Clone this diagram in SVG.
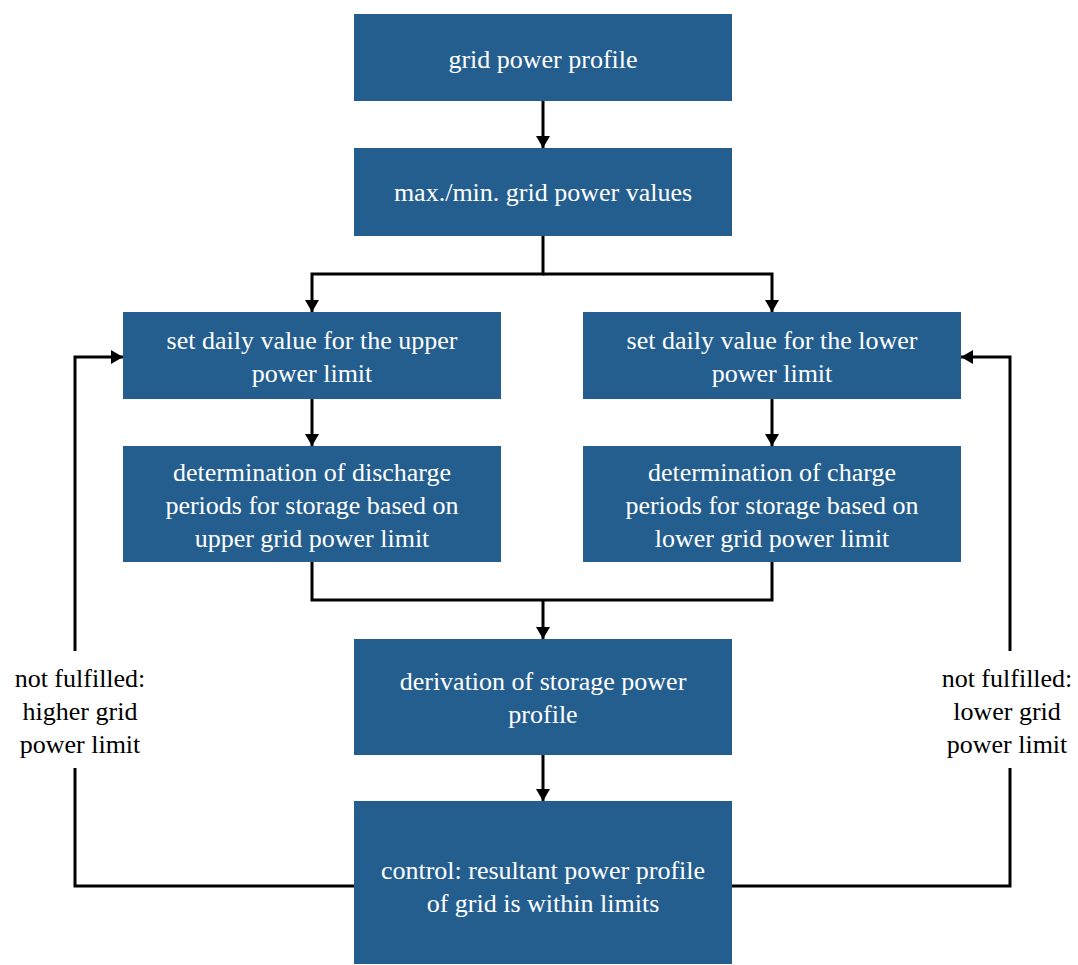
<svg xmlns="http://www.w3.org/2000/svg" width="1078" height="965" viewBox="0 0 1078 965">
<style>
.box{fill:#245e8f}
.t{font-family:'Liberation Serif',Tinos,'Times New Roman','DejaVu Serif','Noto Serif',serif;font-size:26px;fill:#ffffff;text-anchor:middle}
.l{font-family:'Liberation Serif',Tinos,'Times New Roman','DejaVu Serif','Noto Serif',serif;font-size:26px;fill:#000000;text-anchor:middle}
.c{fill:none;stroke:#000;stroke-width:3}
.a{fill:none;stroke:#000;stroke-width:3;marker-end:url(#arr)}
</style>
<defs>
<marker id="arr" viewBox="0 0 12 14" refX="12" refY="7" markerWidth="12" markerHeight="14" markerUnits="userSpaceOnUse" orient="auto">
<path d="M0,0 L12,7 L0,14 Z" fill="#000"/>
</marker>
</defs>
<rect width="1078" height="965" fill="#fff"/>
<g id="connectors">
<path class="a" d="M543,101 V148"/>
<path class="a" d="M543,236 V274 H312 V312"/>
<path class="a" d="M543,274 H772 V312"/>
<path class="a" d="M312,399 V446"/>
<path class="a" d="M772,399 V446"/>
<path class="c" d="M312,562 V600 H772 V562"/>
<path class="a" d="M543,600 V639"/>
<path class="a" d="M543,755 V801"/>
<path class="c" d="M354,886 H75 V768"/>
<path class="a" d="M75,651 V357 H123"/>
<path class="c" d="M732,886 H1010 V768"/>
<path class="a" d="M1010,651 V357 H961"/>
</g>
<g id="n1"><rect class="box" x="354" y="14" width="378" height="87"/><text class="t" x="543" y="68" font-family="Liberation Serif">grid power profile</text></g>
<g id="n2"><rect class="box" x="354" y="148" width="378" height="88"/><text class="t" x="543" y="201">max./min. grid power values</text></g>
<g id="n3"><rect class="box" x="123" y="312" width="378" height="87"/><text class="t" x="312" y="349">set daily value for the upper</text><text class="t" x="312" y="382">power limit</text></g>
<g id="n4"><rect class="box" x="583" y="312" width="378" height="87"/><text class="t" x="772" y="349">set daily value for the lower</text><text class="t" x="772" y="382">power limit</text></g>
<g id="n5"><rect class="box" x="123" y="446" width="378" height="116"/><text class="t" x="312" y="481">determination of discharge</text><text class="t" x="312" y="514">periods for storage based on</text><text class="t" x="312" y="547">upper grid power limit</text></g>
<g id="n6"><rect class="box" x="583" y="446" width="378" height="116"/><text class="t" x="772" y="481">determination of charge</text><text class="t" x="772" y="514">periods for storage based on</text><text class="t" x="772" y="547">lower grid power limit</text></g>
<g id="n7"><rect class="box" x="354" y="639" width="378" height="116"/><text class="t" x="543" y="690">derivation of storage power</text><text class="t" x="543" y="723">profile</text></g>
<g id="n8"><rect class="box" x="354" y="801" width="378" height="163"/><text class="t" x="543" y="879">control: resultant power profile</text><text class="t" x="543" y="912">of grid is within limits</text></g>
<g id="label-left"><text class="l" x="80" y="687">not fulfilled:</text><text class="l" x="80" y="720">higher grid</text><text class="l" x="80" y="753">power limit</text></g>
<g id="label-right"><text class="l" x="1007" y="687">not fulfilled:</text><text class="l" x="1007" y="720">lower grid</text><text class="l" x="1007" y="753">power limit</text></g>
</svg>
